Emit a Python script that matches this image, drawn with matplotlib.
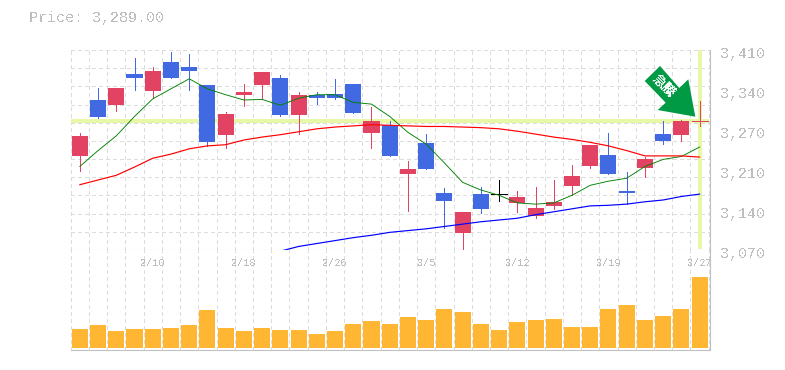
import matplotlib
matplotlib.use('Agg')
import matplotlib.pyplot as plt
from matplotlib.patches import Polygon

plt.rcParams['font.family'] = ['Liberation Mono', 'Noto Sans CJK JP']
plt.rcParams['text.antialiased'] = False
plt.rcParams['lines.scale_dashes'] = False
plt.rcParams['lines.antialiased'] = False

# ローソク足 (2/10 = index 4 ...)
opens = [3230, 3325, 3316, 3369, 3340, 3390, 3381, 3351, 3265, 3334, 3351, 3362,
         3300, 3334, 3335, 3352, 3269, 3283, 3199, 3252, 3167, 3099, 3165, 3165,
         3150, 3128, 3145, 3179, 3213, 3232, 3170, 3209, 3267, 3265, 3289]
closes = [3264, 3296, 3345, 3362, 3374, 3362, 3374, 3254, 3301, 3339, 3373, 3300,
          3334, 3328, 3328, 3303, 3289, 3230, 3208, 3208, 3153, 3135, 3140, 3165,
          3160, 3141, 3152, 3196, 3249, 3199, 3167, 3225, 3255, 3289, 3289]
highs = [3269, 3345, 3345, 3396, 3381, 3407, 3403, 3351, 3305, 3352, 3373, 3368,
         3339, 3339, 3361, 3352, 3313, 3289, 3221, 3267, 3175, 3135, 3177, 3189,
         3170, 3177, 3189, 3215, 3249, 3269, 3203, 3228, 3289, 3291, 3323]
lows = [3205, 3294, 3306, 3342, 3328, 3362, 3342, 3247, 3243, 3315, 3327, 3298,
        3267, 3318, 3327, 3303, 3243, 3230, 3136, 3208, 3107, 3072, 3133, 3153,
        3135, 3124, 3140, 3164, 3209, 3199, 3148, 3194, 3250, 3255, 3281]
# 0:陽線 1:陰線 2:同値
candle_kind = [0, 1, 0, 1, 0, 1, 1, 1, 0, 0, 0, 1, 0, 1, 1, 1, 0, 1, 0, 1, 1, 0,
               1, 2, 0, 0, 0, 0, 0, 1, 1, 0, 1, 0, 0]

ma_short = [3212, 3239, 3264, 3297, 3327, 3344, 3361, 3344, 3334, 3325, 3326, 3316,
            3328, 3334, 3334, 3321, 3318, 3297, 3270, 3250, 3218, 3185, 3172, 3163,
            3150, 3148, 3150, 3163, 3180, 3187, 3192, 3212, 3224, 3229, 3245]
ma_mid = [3181, 3189, 3197, 3211, 3226, 3233, 3242, 3247, 3249, 3257, 3262, 3266,
          3271, 3276, 3279, 3281, 3283, 3282, 3281, 3280, 3280, 3279, 3278, 3276,
          3272, 3267, 3262, 3258, 3253, 3247, 3239, 3230, 3230, 3230, 3228]
ma_long_x = list(range(11, 35))
ma_long = [3068, 3076, 3081, 3086, 3091, 3095, 3100, 3103, 3106, 3110, 3114, 3118,
           3121, 3124, 3130, 3135, 3140, 3145, 3146, 3148, 3152, 3155, 3161, 3165]

volume = [19, 23, 17, 19, 19, 20, 23, 38, 20, 17, 20, 18, 18, 14, 17, 24, 27, 24,
          31, 28, 39, 36, 24, 18, 26, 28, 29, 21, 21, 39, 43, 28, 32, 39, 71]

date_idx = [4, 9, 14, 19, 24, 29, 34]
date_labels = ['2/10', '2/18', '2/26', '3/5', '3/12', '3/19', '3/27']
price_ticks = [3410, 3342, 3274, 3206, 3138, 3070]
price_labels = ['3,410', '3,340', '3,270', '3,210', '3,140', '3,070']
last_price = 3289

W, H = 785, 370
UP = '#E34362'
DOWN = '#4169E1'
GRID = '#DCDCDC'
FRAME = '#C0C0C0'
LIME = '#E6F7A8'
TEXT = '#BEBEBE'
LW = 0.72
DASH = (0, (2.2, 2.2))
x = list(range(35))


def rect(x0, y0, x1, y1):
    return [x0 / W, 1 - y1 / H, (x1 - x0) / W, (y1 - y0) / H]


def px(points):
    return [(a / W, 1 - b / H) for a, b in points]


fig = plt.figure(figsize=(W / 100, H / 100), dpi=100)
ax = fig.add_axes(rect(70.7, 50, 710, 250))
ax2 = fig.add_axes(rect(70.7, 250, 710, 350))

xmin, xmax = -0.5, 34.57
for a in (ax, ax2):
    a.set_xlim(xmin, xmax)
    a.set_xticks([i - 0.5 for i in range(36)])
    a.tick_params(length=0, labelbottom=False, labelleft=False)
    a.set_axisbelow(True)
    a.grid(axis='x', color=GRID, lw=LW, ls=DASH)
    for s in a.spines.values():
        s.set_visible(False)
    a.spines['right'].set_visible(True)
    a.spines['right'].set_color(FRAME)
    a.spines['bottom'].set_visible(True)
    a.spines['bottom'].set_color(FRAME)

# 価格
ax.set_ylim(3070, 3410)
ax.set_yticks([3410 - 340 / 11 * i for i in range(12)])
ax.grid(axis='y', color=GRID, lw=LW, ls=DASH)
ax.plot([xmin, 34.5], [last_price, last_price], color=LIME, lw=2.6, zorder=1, solid_capstyle='butt')
ax.plot([34, 34], [3072, 3410], color=LIME, lw=2.6, zorder=1, solid_capstyle='butt')

for i in x:
    c = {0: UP, 1: DOWN, 2: 'black'}[candle_kind[i]]
    ax.plot([i, i], [lows[i], highs[i]], color=c, lw=LW, zorder=3, solid_capstyle='butt')
    if opens[i] == closes[i]:
        ax.plot([i - 0.44, i + 0.44], [opens[i], opens[i]], color=c, lw=LW, zorder=3,
                solid_capstyle='butt')
    else:
        ax.bar(i, closes[i] - opens[i], 0.88, opens[i], color=c, lw=0, zorder=3, antialiased=False)

ax.plot(x, ma_short, color='#008000', lw=0.65, zorder=4, antialiased=True)
ax.plot(x, ma_mid, color='#FF0000', lw=0.85, zorder=4, antialiased=True)
ax.plot(ma_long_x, ma_long, color='#0000FF', lw=0.85, zorder=4, clip_on=False, antialiased=True)

# 出来高
ax2.set_ylim(-2, 98)
ax2.set_yticks([])
ax2.bar(x, volume, 0.88, color='#FFB733', zorder=3, antialiased=False)

for i, t in zip(date_idx, date_labels):
    ax2.text(i, 85.5, t, color=TEXT, fontsize=7.4, ha='center', va='center')
for v, t in zip(price_ticks, price_labels):
    ax.annotate(t, (1, v), xycoords=('axes fraction', 'data'), xytext=(10, -4),
                textcoords='offset pixels', color=TEXT, fontsize=10.8, ha='left', va='center')

fig.text(29 / W, 1 - 18 / H, 'Price: 3,289.00', color=TEXT, fontsize=10.8, ha='left', va='center')

# 矢印
arrow = [(660, 66), (644.7, 81), (665.7, 102.7), (657.7, 110), (695.3, 116.7),
         (688.3, 79.3), (679.3, 88)]
fig.add_artist(Polygon(px(arrow), closed=True, transform=fig.transFigure, color='#009944', lw=0, zorder=6))
fig.text(663 / W, 1 - 86 / H, '急騰', color='white', fontsize=9.5, rotation=-45, ha='center', va='center',
         family=['Noto Sans CJK JP'], weight='bold', zorder=7)

fig.savefig('out.png', dpi=100)
